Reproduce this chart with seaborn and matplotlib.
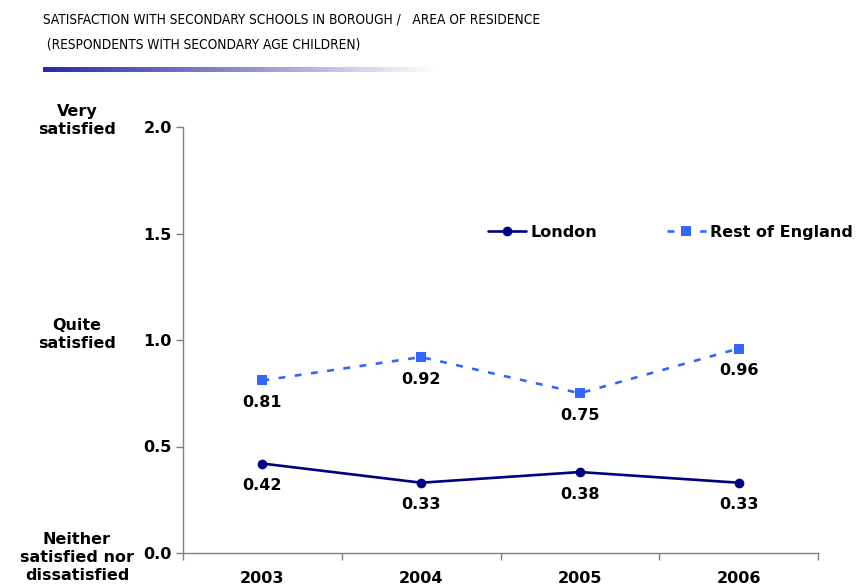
import matplotlib
matplotlib.use("Agg")
import matplotlib.pyplot as plt
from matplotlib import font_manager
from matplotlib.colors import LinearSegmentedColormap
import numpy as np
import pandas as pd
import seaborn as sns

# data
years = ["2003", "2004", "2005", "2006"]
london = [0.42, 0.33, 0.38, 0.33]
rest_of_england = [0.81, 0.92, 0.75, 0.96]
series_names = ["London", "Rest of England"]
y_ticks = [0.0, 0.5, 1.0, 1.5, 2.0]
scale_labels = {2.0: "Very\nsatisfied", 1.0: "Quite\nsatisfied",
                0.0: "Neither\nsatisfied nor\ndissatisfied"}
title = ("SATISFACTION WITH SECONDARY SCHOOLS IN BOROUGH /   AREA OF RESIDENCE\n"
         " (RESPONDENTS WITH SECONDARY AGE CHILDREN)")

df = pd.DataFrame({
    "year": years * 2,
    "value": london + rest_of_england,
    "series": [series_names[0]] * len(years) + [series_names[1]] * len(years),
})

sns.set_style("white")
plt.rcParams["font.family"] = ["DejaVu Sans"]
for key in ["text.color", "axes.labelcolor", "xtick.labelcolor", "ytick.labelcolor"]:
    plt.rcParams[key] = "black"

# pick a narrow face for the title if one is installed
installed = font_manager.fontManager.ttflist
names = {f.name for f in installed}
title_font = dict(family=["Liberation Sans", "DejaVu Sans"], fontsize=8.5)
if "Liberation Sans Narrow" in names:
    title_font = dict(family=["Liberation Sans Narrow", "DejaVu Sans"], fontsize=9.8)
else:
    narrow = [f for f in installed if str(f.stretch) in ("condensed", "semi-condensed", "extra-condensed")
              or "Condensed" in f.name or "Narrow" in f.name]
    if narrow:
        f0 = narrow[0]
        title_font = dict(family=[f0.name, "DejaVu Sans"], fontstretch=f0.stretch, fontsize=9.8)

fs = 11.5
fig = plt.figure(figsize=(8.56, 5.86), dpi=100)
ax = fig.add_axes([183 / 856, 33 / 586, 635 / 856, 426 / 586])

colors = {"London": "#000080", "Rest of England": "#3366FF"}
sns.lineplot(data=df, x="year", y="value", hue="series", style="series",
             palette=colors, markers={"London": "o", "Rest of England": "s"},
             dashes={"London": "", "Rest of England": (2.6, 3.6)},
             linewidth=1.9, markersize=7, markeredgewidth=0, ax=ax, sort=False)

# value labels below each point
for line_vals in [london, rest_of_england]:
    for i, v in enumerate(line_vals):
        ax.annotate(f"{v:.2f}", (i, v), xytext=(0, -16), textcoords="offset points",
                    ha="center", va="center", fontsize=fs, fontweight="bold")

ax.set_xlim(-0.5, len(years) - 0.5)
ax.set_ylim(0, 2.0)
ax.set_yticks(y_ticks)
ax.set_yticklabels([f"{t:.1f}" for t in y_ticks], fontsize=fs, fontweight="bold")
ax.set_xticks(range(len(years)))
ax.set_xticklabels(years, fontsize=fs, fontweight="bold")
ax.set_xticks(np.arange(-0.5, len(years)), minor=True)
ax.tick_params(axis="x", which="major", length=0, pad=13)
ax.tick_params(axis="x", which="minor", length=5, width=1, color="#808080", direction="out", bottom=True)
ax.tick_params(axis="y", length=5, width=1, color="#808080", direction="out", left=True, pad=3)
ax.set_xlabel("")
ax.set_ylabel("")
for side in ["top", "right"]:
    ax.spines[side].set_visible(False)
for side in ["left", "bottom"]:
    ax.spines[side].set_color("#808080")
    ax.spines[side].set_linewidth(1)

# scale descriptions left of the numbers
shift = {2.0: 5, 1.0: 4, 0.0: -3}
for val, txt in scale_labels.items():
    ax.annotate(txt, xy=(77 / 856, val), xycoords=("figure fraction", "data"),
                xytext=(0, shift[val]), textcoords="offset points",
                ha="center", va="center", multialignment="center",
                fontsize=fs, fontweight="bold", linespacing=1.25)

leg = ax.legend(loc="center left", bbox_to_anchor=(0.47, 0.753), ncol=2,
                frameon=False, fontsize=fs, handlelength=2.4,
                handletextpad=0.25, columnspacing=4.4, borderaxespad=0)
for t in leg.get_texts():
    t.set_fontweight("bold")

# title and gradient rule
fig.text(43 / 856, 1 - 32 / 586, title, ha="left", va="center",
         linespacing=2.0, color="black", **title_font)
bar_ax = fig.add_axes([43 / 856, 1 - 72 / 586, 395 / 856, 5 / 586])
cmap = LinearSegmentedColormap.from_list("rule", ["#2b2ba6", "#8f8fcc", "#ffffff"])
bar_ax.imshow(np.linspace(0, 1, 256)[None, :], aspect="auto", cmap=cmap)
bar_ax.axis("off")

fig.savefig("out.png", dpi=100)
